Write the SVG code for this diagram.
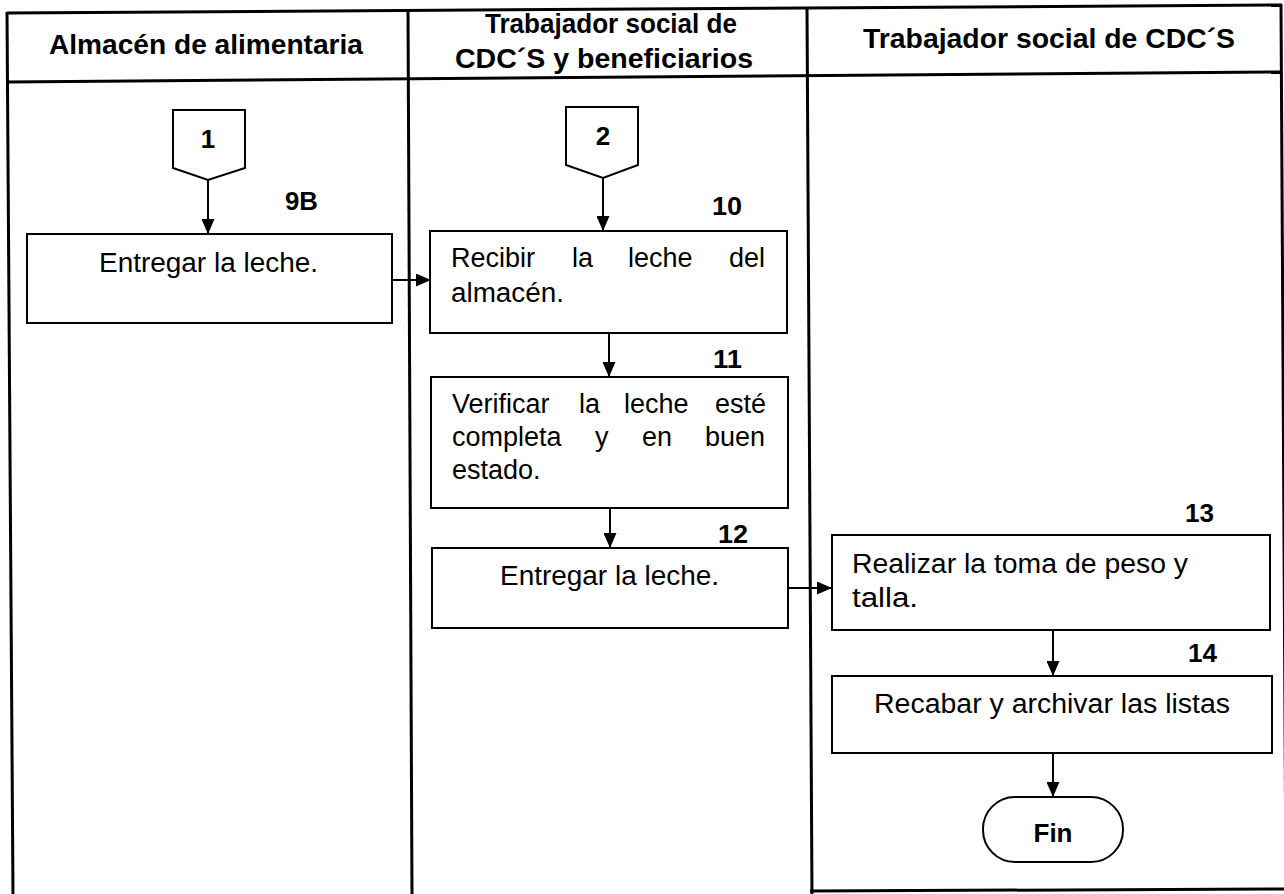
<svg xmlns="http://www.w3.org/2000/svg" width="1284" height="894" viewBox="0 0 1284 894">
  <defs>
    <marker id="arrow" markerUnits="userSpaceOnUse" markerWidth="15" markerHeight="13" refX="15" refY="6.5" orient="auto">
      <path d="M0,0 L15,6.5 L0,13 z" fill="#000"/>
    </marker>
  </defs>
  <style>
    .lane { stroke: #000; stroke-width: 3; fill: none; }
    .box { fill: #fff; stroke: #000; stroke-width: 2; }
    .edge { stroke: #000; stroke-width: 2; fill: none; marker-end: url(#arrow); }
    .hdr { font-family: "Liberation Sans", Arial, sans-serif; font-weight: bold; font-size: 28px; fill: #000; }
    .txt { font-family: "Liberation Sans", Arial, sans-serif; font-size: 27px; fill: #000; }
    .num { font-family: "Liberation Sans", Arial, sans-serif; font-weight: bold; font-size: 26px; fill: #000; }
  </style>
  <rect width="1284" height="894" fill="#fff"/>

  <!-- swimlane table -->
  <g id="lanes">
    <line class="lane" x1="7" y1="13" x2="1282" y2="5"/>
    <line class="lane" x1="7" y1="82" x2="1282" y2="72"/>
    <line class="lane" x1="7" y1="12" x2="13" y2="896"/>
    <line class="lane" x1="408" y1="10" x2="412" y2="896"/>
    <line class="lane" x1="807" y1="8" x2="812" y2="896"/>
    <line class="lane" x1="1281" y1="4" x2="1286" y2="896"/>
    <line class="lane" x1="810" y1="891" x2="1284" y2="889"/>
    <text class="hdr" x="49" y="54" textLength="314" lengthAdjust="spacingAndGlyphs">Almacén de alimentaria</text>
    <text class="hdr" x="485" y="33" textLength="252" lengthAdjust="spacingAndGlyphs">Trabajador social de</text>
    <text class="hdr" x="455" y="68" textLength="298" lengthAdjust="spacingAndGlyphs">CDC´S y beneficiarios</text>
    <text class="hdr" x="863" y="48" textLength="372" lengthAdjust="spacingAndGlyphs">Trabajador social de CDC´S</text>
  </g>

  <!-- connectors -->
  <g id="connectors">
    <line class="edge" x1="208" y1="180" x2="208" y2="234"/>
    <line class="edge" x1="392" y1="280" x2="431" y2="280"/>
    <line class="edge" x1="603" y1="178" x2="603" y2="231"/>
    <line class="edge" x1="609" y1="333" x2="609" y2="377"/>
    <line class="edge" x1="610" y1="508" x2="610" y2="548"/>
    <line class="edge" x1="788" y1="588" x2="832" y2="588"/>
    <line class="edge" x1="1053" y1="630" x2="1053" y2="676"/>
    <line class="edge" x1="1053" y1="753" x2="1053" y2="797"/>
  </g>

  <!-- off-page connector 1 -->
  <g id="ref1">
    <polygon class="box" points="173,110 245,110 245,168 208,180 173,168"/>
    <text class="num" x="208" y="148" text-anchor="middle" font-size="28">1</text>
  </g>

  <!-- off-page connector 2 -->
  <g id="ref2">
    <polygon class="box" points="566,107 638,107 638,165 603,178 566,165"/>
    <text class="num" x="603" y="145" text-anchor="middle" font-size="28">2</text>
  </g>

  <!-- step 9B -->
  <g id="step9b">
    <rect class="box" x="27" y="234" width="365" height="89"/>
    <text class="num" x="285" y="210" textLength="33" lengthAdjust="spacingAndGlyphs">9B</text>
    <text class="txt" x="99" y="272" textLength="219" lengthAdjust="spacingAndGlyphs">Entregar la leche.</text>
  </g>

  <!-- step 10 -->
  <g id="step10">
    <rect class="box" x="430" y="231" width="357" height="102"/>
    <text class="num" x="712" y="215" textLength="30" lengthAdjust="spacingAndGlyphs">10</text>
    <text class="txt" y="267">
      <tspan x="451">Recibir</tspan><tspan x="572">la</tspan><tspan x="628">leche</tspan><tspan x="729">del</tspan>
    </text>
    <text class="txt" x="451" y="302" textLength="113" lengthAdjust="spacingAndGlyphs">almacén.</text>
  </g>

  <!-- step 11 -->
  <g id="step11">
    <rect class="box" x="431" y="377" width="357" height="131"/>
    <text class="num" x="713" y="368" textLength="29" lengthAdjust="spacingAndGlyphs">11</text>
    <text class="txt" y="413">
      <tspan x="452">Verificar</tspan><tspan x="579">la</tspan><tspan x="624">leche</tspan><tspan x="715">esté</tspan>
    </text>
    <text class="txt" y="446">
      <tspan x="452">completa</tspan><tspan x="595">y</tspan><tspan x="642">en</tspan><tspan x="705">buen</tspan>
    </text>
    <text class="txt" x="452" y="479">estado.</text>
  </g>

  <!-- step 12 -->
  <g id="step12">
    <rect class="box" x="432" y="548" width="356" height="80"/>
    <text class="num" x="718" y="543" textLength="30" lengthAdjust="spacingAndGlyphs">12</text>
    <text class="txt" x="500" y="585" textLength="219" lengthAdjust="spacingAndGlyphs">Entregar la leche.</text>
  </g>

  <!-- step 13 -->
  <g id="step13">
    <rect class="box" x="832" y="535" width="438" height="95"/>
    <text class="num" x="1185" y="522" textLength="29" lengthAdjust="spacingAndGlyphs">13</text>
    <text class="txt" x="852" y="573" textLength="336" lengthAdjust="spacingAndGlyphs">Realizar la toma de peso y</text>
    <text class="txt" x="852" y="607" textLength="66" lengthAdjust="spacingAndGlyphs">talla.</text>
  </g>

  <!-- step 14 -->
  <g id="step14">
    <rect class="box" x="832" y="676" width="440" height="77"/>
    <text class="num" x="1188" y="662" textLength="29" lengthAdjust="spacingAndGlyphs">14</text>
    <text class="txt" x="874" y="713" textLength="356" lengthAdjust="spacingAndGlyphs">Recabar y archivar las listas</text>
  </g>

  <!-- end terminator -->
  <g id="fin">
    <rect class="box" x="983" y="797" width="140" height="65" rx="32" ry="32"/>
    <text class="num" x="1053" y="842" text-anchor="middle" font-size="28">Fin</text>
  </g>
</svg>
